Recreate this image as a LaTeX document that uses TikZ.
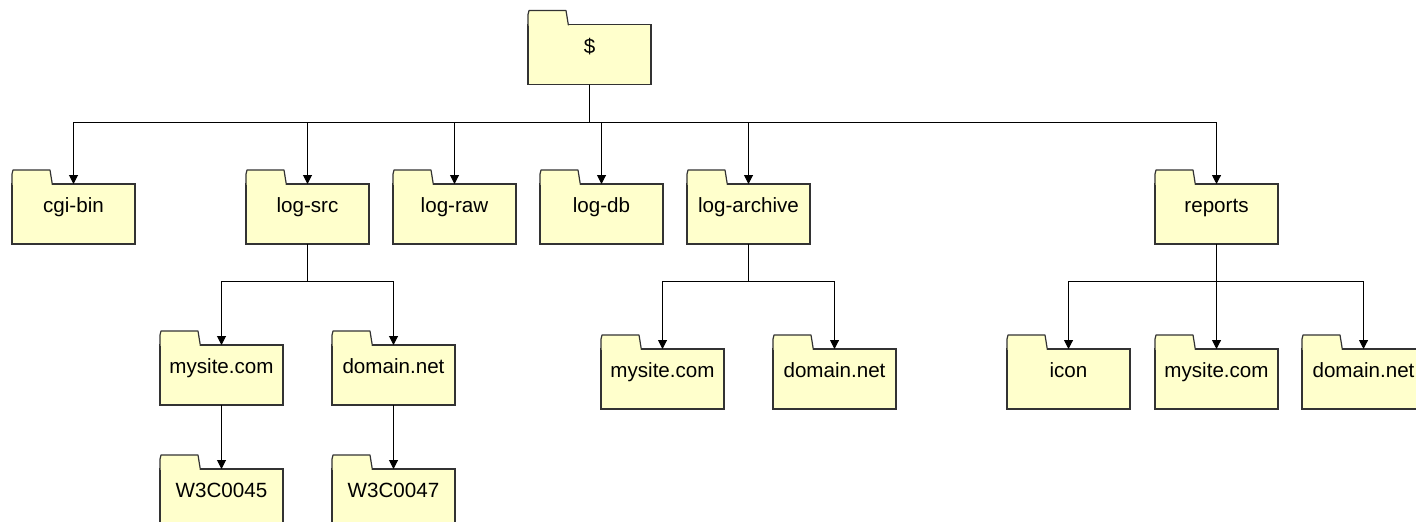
\documentclass[tikz,border=0pt]{standalone}
\usepackage{fontspec}
\setmainfont{Liberation Sans}
\usetikzlibrary{arrows.meta,positioning,calc}
\definecolor{folderfill}{HTML}{FFFFCC}
\definecolor{folderline}{HTML}{333333}

\begin{document}
\begin{tikzpicture}[
  x=0.5pt,y=0.5pt,
  font=\fontsize{10.3}{12}\selectfont,>={Triangle[width=4.5pt,length=4.5pt]},
  folder/.style={draw=folderline,fill=folderfill,line width=0.6pt,inner sep=0pt,outer sep=0pt,
    minimum width=61.5pt,minimum height=30pt,text height=8pt,text depth=9.5pt},
  tab/.style={draw=folderline,fill=folderfill,line width=0.6pt,line join=round},
  ar/.style={->,line width=0.5pt,black}
]
\useasboundingbox (0,0) rectangle (1416,-521);

% root
\node[folder] (root) at (589.5,-54.5) {\$};

% first level
\node[folder] (cgibin) at (73.5,-214) {cgi-bin};
\node[folder,right=55.5pt of cgibin] (logsrc) {log-src};
\node[folder,right=12pt of logsrc] (lograw) {log-raw};
\node[folder,right=12pt of lograw] (logdb) {log-db};
\node[folder,right=12pt of logdb] (logarch) {log-archive};
\node[folder,right=172.5pt of logarch] (reports) {reports};

% log-src
\node[folder,below=50.5pt of logsrc,xshift=-43pt] (srcmysite) {mysite.com};
\node[folder,below=50.5pt of logsrc,xshift=43pt] (srcdomain) {domain.net};
\node[folder,below=32pt of srcmysite] (srcw45) {W3C0045};
\node[folder,below=32pt of srcdomain] (srcw47) {W3C0047};

% log-archive
\node[folder,below=52.5pt of logarch,xshift=-43pt] (arcmysite) {mysite.com};
\node[folder,below=52.5pt of logarch,xshift=43pt] (arcdomain) {domain.net};

% reports
\node[folder,below=52.5pt of reports,xshift=-74pt] (repicon) {icon};
\node[folder,below=52.5pt of reports] (repmysite) {mysite.com};
\node[folder,below=52.5pt of reports,xshift=73.5pt] (repdomain) {domain.net};

% folder tabs
\foreach \n in {root,cgibin,logsrc,lograw,logdb,logarch,reports,srcmysite,srcdomain,srcw45,srcw47,arcmysite,arcdomain,repicon,repmysite,repdomain}
  \path[tab] (\n.north west) ++(0pt,-0.4pt) -- ++(0pt,5.4pt) -- ++(0.5pt,2pt) -- ++(18.5pt,0pt) -- ++(1.2pt,-7.4pt);

% bus lines
\coordinate (bus0) at ($(root.south)+(0,-37.5)$);
\coordinate (bus1) at ($(logsrc.south)+(0,-37)$);
\coordinate (bus2) at ($(logarch.south)+(0,-37)$);
\coordinate (bus3) at ($(reports.south)+(0,-37)$);

% arrows
\draw[ar] (root.south) |- (bus0 -| cgibin) -- (cgibin.north);
\draw[ar] (root.south) |- (bus0 -| logsrc) -- (logsrc.north);
\draw[ar] (root.south) |- (bus0 -| lograw) -- (lograw.north);
\draw[ar] (root.south) |- (bus0 -| logdb) -- (logdb.north);
\draw[ar] (root.south) |- (bus0 -| logarch) -- (logarch.north);
\draw[ar] (root.south) |- (bus0 -| reports) -- (reports.north);

\draw[ar] (logsrc.south) |- (bus1 -| srcmysite) -- (srcmysite.north);
\draw[ar] (logsrc.south) |- (bus1 -| srcdomain) -- (srcdomain.north);
\draw[ar] (srcmysite) -- (srcw45);
\draw[ar] (srcdomain) -- (srcw47);

\draw[ar] (logarch.south) |- (bus2 -| arcmysite) -- (arcmysite.north);
\draw[ar] (logarch.south) |- (bus2 -| arcdomain) -- (arcdomain.north);

\draw[ar] (reports.south) |- (bus3 -| repicon) -- (repicon.north);
\draw[ar] (reports.south) -- (repmysite.north);
\draw[ar] (reports.south) |- (bus3 -| repdomain) -- (repdomain.north);
\end{tikzpicture}
\end{document}
